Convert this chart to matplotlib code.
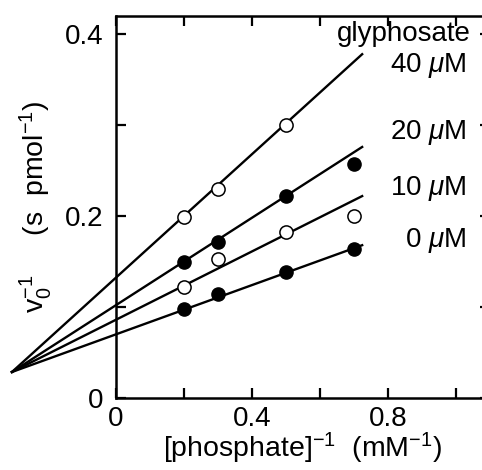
import matplotlib
matplotlib.use("Agg")
import matplotlib.pyplot as plt

plt.rcParams['font.family'] = ['Liberation Sans', 'DejaVu Sans']
plt.rcParams['mathtext.fontset'] = 'custom'
plt.rcParams['mathtext.rm'] = 'Liberation Sans'
plt.rcParams['mathtext.it'] = 'Liberation Sans:italic'

# data
x_pts = [0.2, 0.3, 0.5, 0.7]
y_40 = [0.199, 0.230, 0.300]          # open circles, no point at 0.7
y_20 = [0.150, 0.171, 0.222, 0.257]   # filled
y_10 = [0.122, 0.153, 0.182, 0.200]   # open
y_0 = [0.098, 0.114, 0.138, 0.164]    # filled

# fitted lines: common crossing point on the left and end at x=0.724
x_line = [-0.306, 0.724]
line_40 = [0.0286, 0.378]
line_20 = [0.0286, 0.276]
line_10 = [0.0286, 0.222]
line_0 = [0.0286, 0.168]

labels = ['40 $\\mu$M', '20 $\\mu$M', '10 $\\mu$M', '0 $\\mu$M']
label_y = [0.366, 0.292, 0.230, 0.173]

fig = plt.figure(figsize=(4.82, 4.70), dpi=100)
ax = fig.add_axes([116/482, 72/470, 374/482, 382/470])

for yl in [line_40, line_20, line_10, line_0]:
    ax.plot(x_line, yl, color='black', lw=1.7, clip_on=False, zorder=2)

ax.plot(x_pts[:3], y_40, 'o', mfc='white', mec='black', ms=9.5, mew=1.1, zorder=3)
ax.plot(x_pts, y_20, 'o', mfc='black', mec='black', ms=9.5, zorder=3)
ax.plot(x_pts, y_10, 'o', mfc='white', mec='black', ms=9.5, mew=1.1, zorder=3)
ax.plot(x_pts, y_0, 'o', mfc='black', mec='black', ms=9.5, zorder=3)

ax.text(1.044, 0.400, 'glyphosate', fontsize=20, ha='right', va='center')
for lab, yy in zip(labels, label_y):
    ax.text(1.03, yy, lab, fontsize=20, ha='right', va='center')

ax.set_xlim(0, 1.1)
ax.set_ylim(0, 0.42)
ax.set_xticks([0, 0.4, 0.8])
ax.set_xticklabels(['0', '0.4', '0.8'])
ax.set_xticks([0.2, 0.6, 1.0], minor=True)
ax.set_yticks([0, 0.2, 0.4])
ax.set_yticklabels(['0', '0.2', '0.4'])
ax.set_yticks([0.1, 0.3], minor=True)
ax.tick_params(which='both', direction='in', length=7, width=1.6,
               top=True, right=True, labelsize=20)
ax.tick_params(axis='y', which='both', pad=9)
ax.tick_params(axis='x', which='both', pad=6)
for s in ax.spines.values():
    s.set_linewidth(1.8)

ax.set_xlabel('[phosphate]$^{-1}$  (mM$^{-1}$)', fontsize=20.5, labelpad=-1)
ax.set_ylabel('v$_0^{-1}$     (s  pmol$^{-1}$)', fontsize=20.5, labelpad=8)

fig.savefig('out.png', dpi=100)
